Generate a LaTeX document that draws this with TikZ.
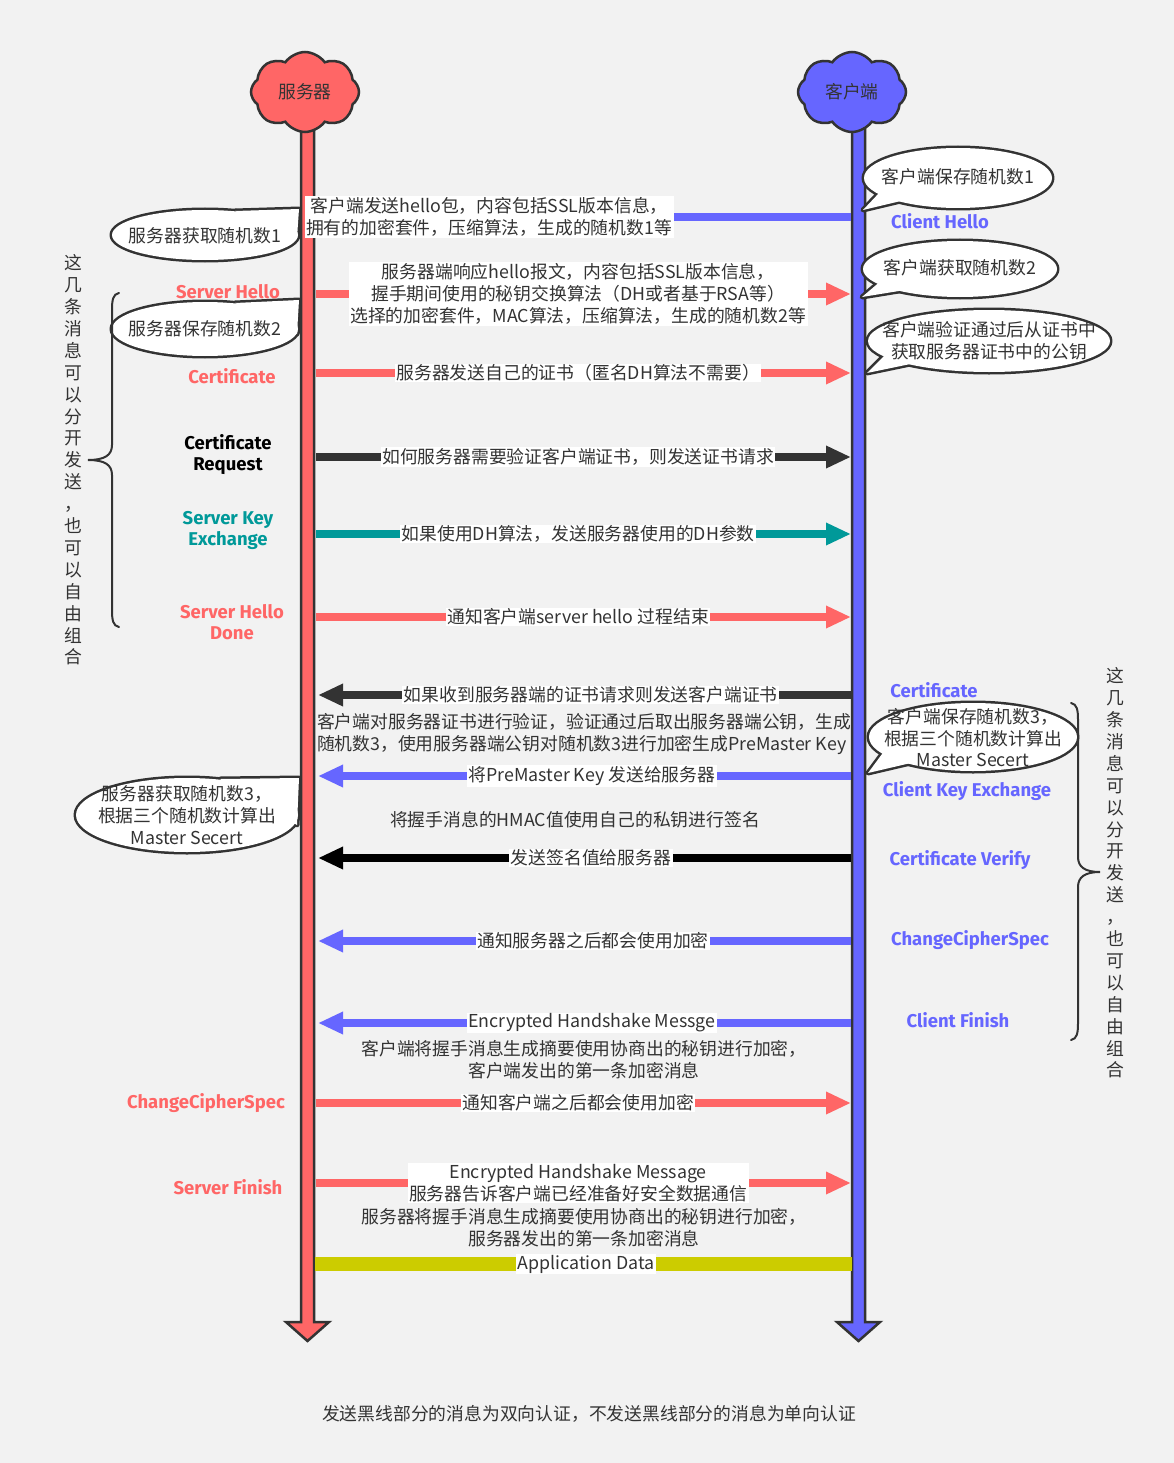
\documentclass[tikz,border=0pt]{standalone}
\usepackage{fontspec}
\setmainfont{Noto Sans CJK SC}
\newfontfamily\comicfont{Fira Sans}
\usetikzlibrary{arrows.meta,shapes.symbols}
\definecolor{bg}{HTML}{F2F2F2}
\definecolor{dk}{HTML}{333333}
\definecolor{rd}{HTML}{FF6666}
\definecolor{bl}{HTML}{6666FF}
\definecolor{tl}{HTML}{009999}
\definecolor{yl}{HTML}{CCCC00}
\begin{document}
\begin{tikzpicture}[x=1pt,y=-1pt,
  txt/.style={font=\fontsize{17.8}{22}\selectfont, text=dk, align=center, inner sep=1.5pt},
  lbl/.style={txt, fill=white, inner ysep=1pt},
  msg/.style={line width=8pt, -{Triangle[length=25pt,width=21pt]}},
  tag/.style={font=\comicfont\bfseries\fontsize{18.5}{21}\selectfont, align=center, inner sep=0pt},
  co/.style={draw=dk, line width=5pt, line join=round},
  bar/.style={draw=dk, line width=2.5pt, line join=miter},
  brc/.style={draw=dk, line width=2pt, line cap=round},
  ]
\fill[bg] (0,0) rectangle (1174,1463);
\useasboundingbox (0,0) rectangle (1174,1463);

% lifelines
\filldraw[bar, fill=rd] (301,120) -- (314,120) -- (314,1322) -- (329,1322) -- (307.5,1341) -- (286,1322) -- (301,1322) -- cycle;
\filldraw[bar, fill=bl] (852,120) -- (865,120) -- (865,1322) -- (880,1322) -- (858.5,1341) -- (837,1322) -- (852,1322) -- cycle;

% clouds
\node[cloud, cloud puffs=8, cloud puff arc=110, aspect=1.3, draw=dk, line width=2.5pt, fill=rd, minimum width=108pt, minimum height=80pt, txt] (server) at (305,92) {服务器};
\node[cloud, cloud puffs=8, cloud puff arc=110, aspect=1.3, draw=dk, line width=2.5pt, fill=bl, minimum width=108pt, minimum height=80pt, txt] (client) at (852,92) {客户端};

% message end points
\foreach \n/\y in {1/217,2/294,3/373,4/457,5/534,6/617,7/695,8/776,9/858,10/941,11/1023,12/1103,13/1183}{
  \coordinate (s\n) at (316,\y);
  \coordinate (S\n) at (318,\y);
  \coordinate (c\n) at (851,\y);
}
\coordinate (s14) at (315,1264);
\coordinate (c14) at (852,1264);

% messages
\draw[msg, bl] (c1) -- node[lbl, pos=0.679] (m1) {客户端发送hello包，内容包括SSL版本信息，\\拥有的加密套件，压缩算法，生成的随机数1等} (S1);
\draw[msg, rd] (s2) -- node[lbl, pos=0.49] (m2) {服务器端响应hello报文，内容包括SSL版本信息，\\握手期间使用的秘钥交换算法（DH或者基于RSA等）\\选择的加密套件，MAC算法，压缩算法，生成的随机数2等} (c2);
\draw[msg, rd] (s3) -- node[lbl, pos=0.49] (m3) {服务器发送自己的证书（匿名DH算法不需要）} (c3);
\draw[msg, dk] (s4) -- node[lbl, pos=0.49] (m4) {如何服务器需要验证客户端证书，则发送证书请求} (c4);
\draw[msg, tl] (s5) -- node[lbl, pos=0.49] (m5) {如果使用DH算法，发送服务器使用的DH参数} (c5);
\draw[msg, rd] (s6) -- node[lbl, pos=0.49] (m6) {通知客户端server hello 过程结束} (c6);
\draw[msg, dk] (c7) -- node[lbl, pos=0.488] (m7) {如果收到服务器端的证书请求则发送客户端证书} (S7);
\draw[msg, bl] (c8) -- node[lbl, pos=0.486] (m8) {将PreMaster Key 发送给服务器} (S8);
\draw[msg, black] (c9) -- node[lbl, pos=0.488] (m9) {发送签名值给服务器} (S9);
\draw[msg, bl] (c10) -- node[lbl, pos=0.484] (m10) {通知服务器之后都会使用加密} (S10);
\draw[msg, bl] (c11) -- node[lbl, pos=0.486] (m11) {Encrypted Handshake Messge} (S11);
\draw[msg, rd] (s12) -- node[lbl, pos=0.49] (m12) {通知客户端之后都会使用加密} (c12);
\draw[msg, rd] (s13) -- node[lbl, pos=0.49] (m13) {Encrypted Handshake Message\\服务器告诉客户端已经准备好安全数据通信} (c13);
\draw[yl, line width=14pt] (s14) -- node[lbl, pos=0.505] (m14) {Application Data} (c14);

% plain texts
\node[txt, align=left] (t7) at (584,734) {客户端对服务器证书进行验证，验证通过后取出服务器端公钥，生成\\随机数3，使用服务器端公钥对随机数3进行加密生成PreMaster Key};
\node[txt] (t8) at (575,820) {将握手消息的HMAC值使用自己的私钥进行签名};
\node[txt] (t11) at (584,1060) {客户端将握手消息生成摘要使用协商出的秘钥进行加密，\\客户端发出的第一条加密消息};
\node[txt] (t13) at (584,1228) {服务器将握手消息生成摘要使用协商出的秘钥进行加密，\\服务器发出的第一条加密消息};
\node[txt] (note) at (589,1414) {发送黑线部分的消息为双向认证，不发送黑线部分的消息为单向认证};

% left callouts
\path[co] (205,235) ellipse [x radius=93pt, y radius=25pt];
\path[co] (235,211) -- (299,209) -- (297,238) -- cycle;
\fill[white] (205,235) ellipse [x radius=93pt, y radius=25pt];
\fill[white] (235,211) -- (299,209) -- (297,238) -- cycle;
\node[txt] (k1) at (205,236) {服务器获取随机数1};

\path[co] (205,329) ellipse [x radius=93pt, y radius=27pt];
\path[co] (235,303) -- (299,300) -- (297,334) -- cycle;
\fill[white] (205,329) ellipse [x radius=93pt, y radius=27pt];
\fill[white] (235,303) -- (299,300) -- (297,334) -- cycle;
\node[txt] (k2) at (205,329) {服务器保存随机数2};

\path[co] (187,815) ellipse [x radius=111pt, y radius=37pt];
\path[co] (220,779) -- (299,778) -- (297,825) -- cycle;
\fill[white] (187,815) ellipse [x radius=111pt, y radius=37pt];
\fill[white] (220,779) -- (299,778) -- (297,825) -- cycle;
\node[txt] (k3) at (187,815) {服务器获取随机数3，\\根据三个随机数计算出\\Master Secert};

% right callouts
\path[co] (958,178) ellipse [x radius=94pt, y radius=30pt];
\path[co] (880,192) -- (863,210) -- (905,200) -- cycle;
\fill[white] (958,178) ellipse [x radius=94pt, y radius=30pt];
\fill[white] (880,192) -- (863,210) -- (905,200) -- cycle;
\node[txt] (q1) at (958,177) {客户端保存随机数1};

\path[co] (960,269) ellipse [x radius=97pt, y radius=28pt];
\path[co] (882,280) -- (862,297) -- (905,290) -- cycle;
\fill[white] (960,269) ellipse [x radius=97pt, y radius=28pt];
\fill[white] (882,280) -- (862,297) -- (905,290) -- cycle;
\node[txt] (q2) at (960,268) {客户端获取随机数2};

\path[co] (989,341) ellipse [x radius=121pt, y radius=31pt];
\path[co] (890,350) -- (867,373) -- (920,362) -- cycle;
\fill[white] (989,341) ellipse [x radius=121pt, y radius=31pt];
\fill[white] (890,350) -- (867,373) -- (920,362) -- cycle;
\node[txt] (q3) at (989,341) {客户端验证通过后从证书中\\获取服务器证书中的公钥};

\path[co] (973,737) ellipse [x radius=104pt, y radius=34pt];
\path[co] (885,750) -- (868,773) -- (915,762) -- cycle;
\fill[white] (973,737) ellipse [x radius=104pt, y radius=34pt];
\fill[white] (885,750) -- (868,773) -- (915,762) -- cycle;
\node[txt, font=\fontsize{17.8}{21.5}\selectfont] (q4) at (973,738) {客户端保存随机数3，\\根据三个随机数计算出\\Master Secert};

% left tags
\node[tag, text=rd] (lSH) at (228,292) {Server Hello};
\node[tag, text=rd] (lCert) at (232,376) {Certificate};
\node[tag, text=black] (lCR) at (228,455) {Certificate\\Request};
\node[tag, text=tl] (lSKE) at (228,530) {Server Key\\Exchange};
\node[tag, text=rd] (lSHD) at (232,622) {Server Hello\\Done};
\node[tag, text=rd] (lCCS) at (206,1103) {ChangeCipherSpec};
\node[tag, text=rd] (lSF) at (228,1187) {Server Finish};
% right tags
\node[tag, text=bl] (rCH) at (940,221) {Client Hello};
\node[tag, text=bl] (rCert) at (934,690) {Certificate};
\node[tag, text=bl] (rCKE) at (967,791) {Client Key Exchange};
\node[tag, text=bl] (rCV) at (960,860) {Certificate Verify};
\node[tag, text=bl] (rCCS) at (970,940) {ChangeCipherSpec};
\node[tag, text=bl] (rCF) at (958,1020) {Client Finish};

% braces
\draw[brc] (119,293) .. controls (113,294) and (112,300) .. (112,310) -- (112,445) .. controls (112,455) and (105,460) .. (88,460) .. controls (105,460) and (112,465) .. (112,475) -- (112,610) .. controls (112,620) and (113,626) .. (119,627);
\draw[brc] (1071,703) .. controls (1077,704) and (1078,710) .. (1078,720) -- (1078,857) .. controls (1078,867) and (1085,872) .. (1100,872) .. controls (1085,872) and (1078,877) .. (1078,887) -- (1078,1023) .. controls (1078,1033) and (1077,1039) .. (1071,1040);

% vertical texts
\node[txt, font=\fontsize{17.8}{21.9}\selectfont] (vl) at (73,460) {这\\几\\条\\消\\息\\可\\以\\分\\开\\发\\送\\，\\也\\可\\以\\自\\由\\组\\合};
\node[txt, font=\fontsize{17.8}{21.9}\selectfont] (vr) at (1115,873) {这\\几\\条\\消\\息\\可\\以\\分\\开\\发\\送\\，\\也\\可\\以\\自\\由\\组\\合};
\end{tikzpicture}
\end{document}
